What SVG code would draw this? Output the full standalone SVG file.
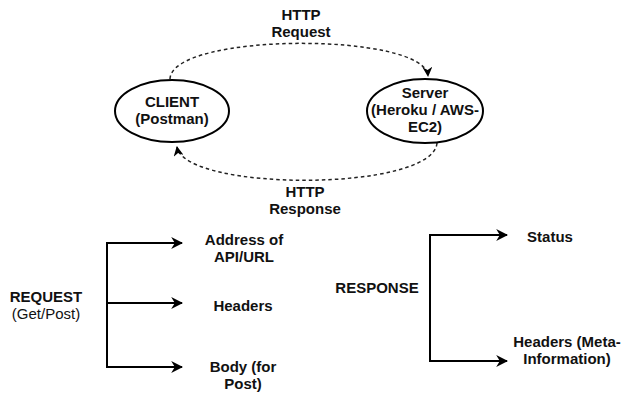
<svg xmlns="http://www.w3.org/2000/svg" width="621" height="394" viewBox="0 0 621 394">
<defs>
<style>
text{font-family:"Liberation Sans",Arial,sans-serif;font-size:15px;fill:#111;text-anchor:middle}
.b{font-weight:bold}
.node{fill:#fff;stroke:#000;stroke-width:2}
.dash{fill:none;stroke:#222;stroke-width:1.5;stroke-dasharray:3.5 3}
.solid{fill:none;stroke:#000;stroke-width:2}
</style>
<marker id="ah" viewBox="0 0 10 10" refX="9" refY="5" markerWidth="10" markerHeight="10" markerUnits="userSpaceOnUse" orient="auto">
<path d="M0,0 L10,5 L0,10 L3,5 Z" fill="#000"/>
</marker>
<marker id="ah2" viewBox="0 0 10 10" refX="9" refY="5" markerWidth="12" markerHeight="12" markerUnits="userSpaceOnUse" orient="auto">
<path d="M0,0 L10,5 L0,10 L3,5 Z" fill="#000"/>
</marker>
</defs>
<rect width="621" height="394" fill="#fff"/>
<g id="connectors">
<path class="dash" d="M170,79 C172,32 425,32 428,76" marker-end="url(#ah)"/>
<path class="dash" d="M437,143 C433,192 185,192 177,147" marker-end="url(#ah)"/>
<path class="solid" d="M107,243 L107,367"/>
<path class="solid" d="M106,243 L182,243" marker-end="url(#ah2)"/>
<path class="solid" d="M107,303 L182,303" marker-end="url(#ah2)"/>
<path class="solid" d="M106,367 L182,367" marker-end="url(#ah2)"/>
<path class="solid" d="M430,235 L430,361"/>
<path class="solid" d="M429,235 L507,235" marker-end="url(#ah2)"/>
<path class="solid" d="M429,361 L507,361" marker-end="url(#ah2)"/>
</g>
<g id="label-request">
<text class="b" x="301" y="20">HTTP</text>
<text class="b" x="301" y="37">Request</text>
</g>
<g id="label-response">
<text class="b" x="305" y="197">HTTP</text>
<text class="b" x="305" y="214">Response</text>
</g>
<g id="client">
<ellipse class="node" cx="172" cy="111" rx="57" ry="31"/>
<text class="b" x="172" y="107">CLIENT</text>
<text class="b" x="172" y="124">(Postman)</text>
</g>
<g id="server">
<ellipse class="node" cx="425" cy="111" rx="58" ry="32"/>
<text class="b" x="425" y="98">Server</text>
<text class="b" x="425" y="115">(Heroku / AWS-</text>
<text class="b" x="425" y="132">EC2)</text>
</g>
<g id="request">
<text class="b" x="46" y="302">REQUEST</text>
<text x="46" y="319">(Get/Post)</text>
</g>
<g id="address">
<text class="b" x="244" y="245">Address of</text>
<text class="b" x="244" y="262">API/URL</text>
</g>
<g id="headers">
<text class="b" x="243" y="311">Headers</text>
</g>
<g id="body">
<text class="b" x="243" y="372">Body (for</text>
<text class="b" x="243" y="389">Post)</text>
</g>
<g id="response">
<text class="b" x="377" y="293">RESPONSE</text>
</g>
<g id="status">
<text class="b" x="550" y="242">Status</text>
</g>
<g id="resp-headers">
<text class="b" x="567" y="347">Headers (Meta-</text>
<text class="b" x="567" y="364">Information)</text>
</g>
</svg>
